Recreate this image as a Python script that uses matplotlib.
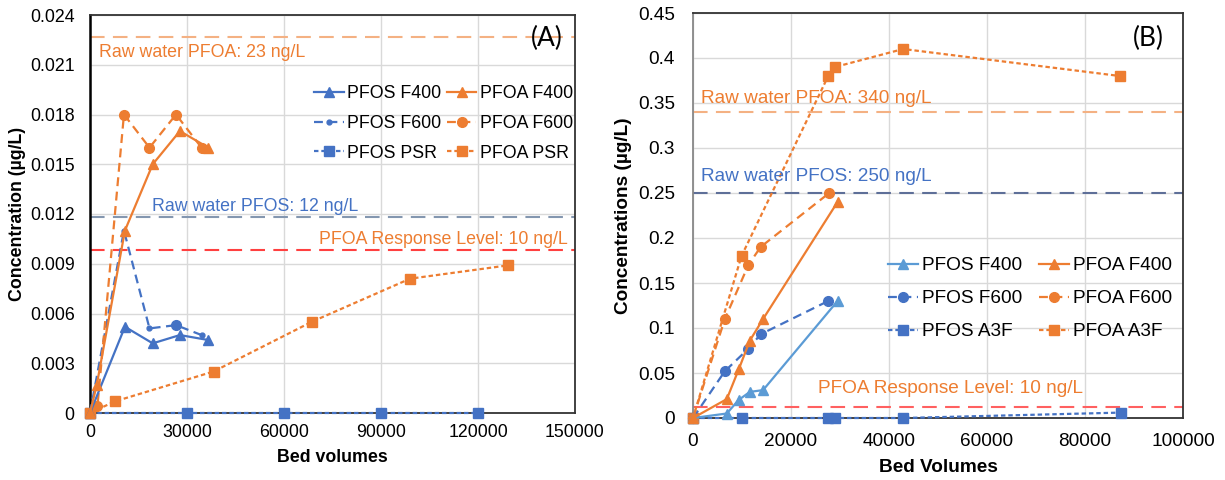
import matplotlib
matplotlib.use("Agg")
import matplotlib.pyplot as plt
from matplotlib.ticker import FuncFormatter, MultipleLocator

plt.rcParams['font.family'] = ['Liberation Sans', 'DejaVu Sans']

# ---------------- Panel A data ----------------
a_pfos_f400_x = [0, 10800, 19400, 27800, 36600]
a_pfos_f400_y = [0, 0.0052, 0.0042, 0.0047, 0.0044]
a_pfoa_f400_x = [0, 2100, 10800, 19400, 27800, 36600]
a_pfoa_f400_y = [0, 0.0017, 0.011, 0.015, 0.017, 0.016]
a_pfos_f600_x = [0, 10500, 18400, 26600, 34500]
a_pfos_f600_y = [0, 0.011, 0.0051, 0.0053, 0.0047]
a_pfoa_f600_x = [0, 2300, 10500, 18400, 26600, 34500]
a_pfoa_f600_y = [0, 0.0004, 0.018, 0.016, 0.018, 0.016]
a_pfos_psr_x = [0, 30000, 60000, 90000, 120000]
a_pfos_psr_y = [0, 0, 0, 0, 0]
a_pfoa_psr_x = [0, 7700, 38200, 68600, 99000, 129200]
a_pfoa_psr_y = [0, 0.0007, 0.0025, 0.0055, 0.0081, 0.0089]
a_raw_pfoa = 0.0227
a_raw_pfos = 0.0118
a_resp = 0.0098

# ---------------- Panel B data ----------------
b_pfos_f400_x = [0, 6900, 9300, 11600, 14300, 29500]
b_pfos_f400_y = [0, 0.005, 0.02, 0.029, 0.031, 0.13]
b_pfoa_f400_x = [0, 6900, 9400, 11600, 14300, 29500]
b_pfoa_f400_y = [0, 0.021, 0.055, 0.086, 0.11, 0.24]
b_pfos_f600_x = [0, 6500, 11300, 13800, 27600]
b_pfos_f600_y = [0, 0.052, 0.077, 0.093, 0.13]
b_pfoa_f600_x = [0, 6500, 11300, 13800, 27800]
b_pfoa_f600_y = [0, 0.11, 0.17, 0.19, 0.25]
b_pfos_a3f_x = [0, 10100, 27600, 29000, 42900, 87300]
b_pfos_a3f_y = [0, 0, 0, 0, 0, 0.006]
b_pfoa_a3f_x = [0, 9900, 27600, 29000, 42900, 87100]
b_pfoa_a3f_y = [0, 0.18, 0.38, 0.39, 0.41, 0.38]
b_raw_pfoa = 0.34
b_raw_pfos = 0.25
b_resp = 0.012

ORANGE = '#ED7D31'
BLUE = '#4472C4'
LBLUE = '#5B9BD5'

fig = plt.figure(figsize=(12.25, 4.8), dpi=100)
W, H = 1225, 480

def axes_px(l, t, r, b):
    return fig.add_axes([l / W, 1 - b / H, (r - l) / W, (b - t) / H])

axA = axes_px(90, 15, 575, 413)
axB = axes_px(693, 13, 1183, 418)

def style(ax, fs, ypad, xpad):
    ax.grid(True, color='#d9d9d9', lw=1.0, zorder=0)
    ax.set_axisbelow(True)
    ax.tick_params(length=0, labelsize=fs)
    ax.tick_params(axis='y', pad=ypad)
    ax.tick_params(axis='x', pad=xpad)
    for s in ax.spines.values():
        s.set_color('#333333')
        s.set_linewidth(1.3)

DASH = (0, (4, 2.5))
SHORT = (0, (2, 1.3))
LONG = (0, (7, 4))
lw = 1.6
ms = 7

# ---------------- Panel A ----------------
fsA = 12.8
style(axA, fsA, 11, 8)
axA.spines['left'].set_color('black')
axA.spines['left'].set_linewidth(1.8)
axA.set_xlim(0, 150000)
axA.set_ylim(0, 0.024)
axA.xaxis.set_major_locator(MultipleLocator(30000))
axA.yaxis.set_major_locator(MultipleLocator(0.003))
axA.yaxis.set_major_formatter(FuncFormatter(lambda v, p: '0' if abs(v) < 1e-12 else f'{v:.3f}'))
axA.xaxis.set_major_formatter(FuncFormatter(lambda v, p: f'{int(round(v))}'))

axA.axhline(a_raw_pfoa, color='#F4B183', lw=1.5, ls=LONG, zorder=1)
axA.axhline(a_raw_pfos, color='#8497B0', lw=1.5, ls=LONG, zorder=1)
axA.axhline(a_resp, color='#FF4040', lw=1.5, ls=LONG, zorder=1)

hA = {}
hA['pfos_psr'], = axA.plot(a_pfos_psr_x, a_pfos_psr_y, ls=SHORT, color=BLUE, lw=lw, marker='s', ms=ms, clip_on=False, zorder=3, label='PFOS PSR')
hA['pfoa_psr'], = axA.plot(a_pfoa_psr_x, a_pfoa_psr_y, ls=SHORT, color=ORANGE, lw=lw, marker='s', ms=ms, clip_on=False, zorder=3, label='PFOA PSR')
hA['pfos_f600'], = axA.plot(a_pfos_f600_x, a_pfos_f600_y, ls=DASH, color=BLUE, lw=lw, marker='o', ms=3.5, clip_on=False, zorder=4, label='PFOS F600')
axA.plot(a_pfos_f600_x[3:4], a_pfos_f600_y[3:4], ls='none', color=BLUE, marker='o', ms=ms, zorder=4)
hA['pfoa_f600'], = axA.plot(a_pfoa_f600_x, a_pfoa_f600_y, ls=DASH, color=ORANGE, lw=lw, marker='o', ms=ms, clip_on=False, zorder=4, label='PFOA F600')
hA['pfos_f400'], = axA.plot(a_pfos_f400_x, a_pfos_f400_y, ls='-', color=BLUE, lw=lw, marker='^', ms=ms, clip_on=False, zorder=5, label='PFOS F400')
hA['pfoa_f400'], = axA.plot(a_pfoa_f400_x, a_pfoa_f400_y, ls='-', color=ORANGE, lw=lw, marker='^', ms=ms, clip_on=False, zorder=5, label='PFOA F400')

axA.text(0.0186, 0.907, 'Raw water PFOA: 23 ng/L', transform=axA.transAxes, color=ORANGE, fontsize=fsA, va='center', ha='left')
axA.text(0.128, 0.5176, 'Raw water PFOS: 12 ng/L', transform=axA.transAxes, color=BLUE, fontsize=fsA, va='center', ha='left')
axA.text(0.9856, 0.4347, 'PFOA Response Level: 10 ng/L', transform=axA.transAxes, color=ORANGE, fontsize=fsA, va='center', ha='right')
axA.text(0.942, 0.942, '(A)', transform=axA.transAxes, fontsize=19, va='center', ha='center', family=['Lato', 'DejaVu Sans'])

order = ['pfos_f400', 'pfos_f600', 'pfos_psr', 'pfoa_f400', 'pfoa_f600', 'pfoa_psr']
fig.legend([hA[k] for k in order], [hA[k].get_label() for k in order], ncol=2,
           loc='upper left', bbox_to_anchor=(314 / W, 1 - 85 / H), frameon=False,
           borderpad=0, borderaxespad=0, handlelength=1.66, handletextpad=0.2,
           columnspacing=0.32, labelspacing=0.72, fontsize=fsA)

fig.text(18 / W, 1 - 214 / H, 'Concentration (µg/L)', rotation=90, fontsize=fsA, fontweight='bold', ha='center', va='center')
fig.text(332 / W, 1 - 458 / H, 'Bed volumes', fontsize=fsA, fontweight='bold', ha='center', va='center')

# ---------------- Panel B ----------------
fsB = 13.7
style(axB, fsB, 13, 11)
axB.spines['left'].set_color('#888888')
axB.set_xlim(0, 100000)
axB.set_ylim(0, 0.45)
axB.xaxis.set_major_locator(MultipleLocator(20000))
axB.yaxis.set_major_locator(MultipleLocator(0.05))
axB.yaxis.set_major_formatter(FuncFormatter(lambda v, p: '0' if abs(v) < 1e-12 else f'{round(v, 2):g}'))
axB.xaxis.set_major_formatter(FuncFormatter(lambda v, p: f'{int(round(v))}'))

axB.axhline(b_raw_pfoa, color='#F4B183', lw=1.5, ls=LONG, zorder=1)
axB.axhline(b_raw_pfos, color='#5E6F98', lw=1.5, ls=LONG, zorder=1)
axB.axhline(b_resp, color='#FF6060', lw=1.5, ls=LONG, zorder=1)

hB = {}
hB['pfos_a3f'], = axB.plot(b_pfos_a3f_x, b_pfos_a3f_y, ls=SHORT, color=BLUE, lw=lw, marker='s', ms=ms, clip_on=False, zorder=3, label='PFOS A3F')
hB['pfoa_a3f'], = axB.plot(b_pfoa_a3f_x, b_pfoa_a3f_y, ls=SHORT, color=ORANGE, lw=lw, marker='s', ms=ms, clip_on=False, zorder=3, label='PFOA A3F')
hB['pfos_f600'], = axB.plot(b_pfos_f600_x, b_pfos_f600_y, ls=DASH, color=BLUE, lw=lw, marker='o', ms=ms, clip_on=False, zorder=4, label='PFOS F600')
hB['pfoa_f600'], = axB.plot(b_pfoa_f600_x, b_pfoa_f600_y, ls=DASH, color=ORANGE, lw=lw, marker='o', ms=ms, clip_on=False, zorder=4, label='PFOA F600')
hB['pfos_f400'], = axB.plot(b_pfos_f400_x, b_pfos_f400_y, ls='-', color=LBLUE, lw=lw, marker='^', ms=ms, clip_on=False, zorder=5, label='PFOS F400')
hB['pfoa_f400'], = axB.plot(b_pfoa_f400_x, b_pfoa_f400_y, ls='-', color=ORANGE, lw=lw, marker='^', ms=ms, clip_on=False, zorder=5, label='PFOA F400')

axB.text(0.0157, 0.790, 'Raw water PFOA: 340 ng/L', transform=axB.transAxes, color=ORANGE, fontsize=fsB, va='center', ha='left')
axB.text(0.0157, 0.5975, 'Raw water PFOS: 250 ng/L', transform=axB.transAxes, color=BLUE, fontsize=fsB, va='center', ha='left')
axB.text(0.255, 0.074, 'PFOA Response Level: 10 ng/L', transform=axB.transAxes, color=ORANGE, fontsize=fsB, va='center', ha='left')
axB.text(0.929, 0.938, '(B)', transform=axB.transAxes, fontsize=19, va='center', ha='center', family=['Lato', 'DejaVu Sans'])

orderB = ['pfos_f400', 'pfos_f600', 'pfos_a3f', 'pfoa_f400', 'pfoa_f600', 'pfoa_a3f']
fig.legend([hB[k] for k in orderB], [hB[k].get_label() for k in orderB], ncol=2,
           loc='upper left', bbox_to_anchor=(888 / W, 1 - 257 / H), frameon=False,
           borderpad=0, borderaxespad=0, handlelength=1.58, handletextpad=0.2,
           columnspacing=0.9, labelspacing=0.82, fontsize=fsB)

fig.text(623 / W, 1 - 216 / H, 'Concentrations (µg/L)', rotation=90, fontsize=fsB, fontweight='bold', ha='center', va='center')
fig.text(938 / W, 1 - 467 / H, 'Bed Volumes', fontsize=fsB, fontweight='bold', ha='center', va='center')

fig.savefig('out.png', dpi=100, facecolor='white')
